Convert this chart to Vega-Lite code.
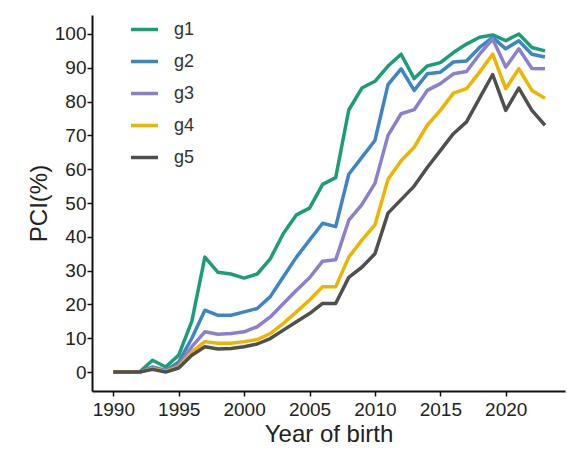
{
  "$schema": "https://vega.github.io/schema/vega-lite/v6.json",
  "autosize": "none",
  "width": 473,
  "height": 376,
  "padding": {"left": 92, "top": 15, "right": 2, "bottom": 58},
  "background": "white",
  "config": {
    "view": {"stroke": null},
    "font": "Liberation Sans",
    "axis": {
      "grid": false,
      "domainColor": "#111",
      "domainWidth": 2,
      "tickColor": "#111",
      "tickWidth": 1.5,
      "tickSize": 5,
      "labelFontSize": 19,
      "labelColor": "#222",
      "titleFontSize": 24,
      "titleFontWeight": "normal",
      "titleColor": "#222"
    }
  },
  "data": {
    "values": [
      {"year": 1990, "g1": 0, "g2": 0, "g3": 0, "g4": 0, "g5": 0},
      {"year": 1991, "g1": 0, "g2": 0, "g3": 0, "g4": 0, "g5": 0},
      {"year": 1992, "g1": 0, "g2": 0, "g3": 0, "g4": 0, "g5": 0},
      {"year": 1993, "g1": 3.5, "g2": 1.5, "g3": 1.2, "g4": 1, "g5": 0.8},
      {"year": 1994, "g1": 1.5, "g2": 0.5, "g3": 0.3, "g4": 0.2, "g5": 0},
      {"year": 1995, "g1": 5, "g2": 3, "g3": 2, "g4": 1.5, "g5": 1.2},
      {"year": 1996, "g1": 15, "g2": 10, "g3": 7.5, "g4": 6, "g5": 5},
      {"year": 1997, "g1": 34, "g2": 18.3, "g3": 11.9, "g4": 9, "g5": 7.5},
      {"year": 1998, "g1": 29.5, "g2": 16.8, "g3": 11.2, "g4": 8.5, "g5": 6.8},
      {"year": 1999, "g1": 29, "g2": 16.8, "g3": 11.4, "g4": 8.5, "g5": 7},
      {"year": 2000, "g1": 27.8, "g2": 17.8, "g3": 11.9, "g4": 9, "g5": 7.5},
      {"year": 2001, "g1": 29, "g2": 18.8, "g3": 13.4, "g4": 9.6, "g5": 8.3},
      {"year": 2002, "g1": 33.5, "g2": 22.3, "g3": 16.3, "g4": 11.4, "g5": 9.9},
      {"year": 2003, "g1": 41, "g2": 28.2, "g3": 20.3, "g4": 14.4, "g5": 12.4},
      {"year": 2004, "g1": 46.5, "g2": 34, "g3": 24.2, "g4": 17.8, "g5": 14.9},
      {"year": 2005, "g1": 48.5, "g2": 39, "g3": 27.9, "g4": 21.3, "g5": 17.3},
      {"year": 2006, "g1": 55.5, "g2": 44, "g3": 32.8, "g4": 25.2, "g5": 20.3},
      {"year": 2007, "g1": 57.5, "g2": 43, "g3": 33.2, "g4": 25.2, "g5": 20.3},
      {"year": 2008, "g1": 77.5, "g2": 58.5, "g3": 44.9, "g4": 34, "g5": 28},
      {"year": 2009, "g1": 84, "g2": 63.5, "g3": 49.5, "g4": 39, "g5": 31},
      {"year": 2010, "g1": 86, "g2": 68.5, "g3": 55.8, "g4": 43.5, "g5": 35},
      {"year": 2011, "g1": 90.5, "g2": 85, "g3": 70, "g4": 57, "g5": 47},
      {"year": 2012, "g1": 94, "g2": 89.7, "g3": 76.4, "g4": 62.5, "g5": 51},
      {"year": 2013, "g1": 86.8, "g2": 83.3, "g3": 77.6, "g4": 66.5, "g5": 55},
      {"year": 2014, "g1": 90.5, "g2": 88.2, "g3": 83.3, "g4": 73, "g5": 60.5},
      {"year": 2015, "g1": 91.5, "g2": 88.7, "g3": 85.3, "g4": 77.4, "g5": 65.5},
      {"year": 2016, "g1": 94.5, "g2": 91.7, "g3": 88.2, "g4": 82.5, "g5": 70.5},
      {"year": 2017, "g1": 97, "g2": 92, "g3": 88.9, "g4": 83.8, "g5": 74},
      {"year": 2018, "g1": 99, "g2": 96, "g3": 94, "g4": 88.7, "g5": 81},
      {"year": 2019, "g1": 99.7, "g2": 99, "g3": 98.5, "g4": 94, "g5": 88},
      {"year": 2020, "g1": 98, "g2": 95.6, "g3": 90.2, "g4": 83.8, "g5": 77.4},
      {"year": 2021, "g1": 100, "g2": 98, "g3": 95.6, "g4": 89.7, "g5": 84},
      {"year": 2022, "g1": 96, "g2": 94, "g3": 89.8, "g4": 83.3, "g5": 77.4},
      {"year": 2023, "g1": 95, "g2": 93.2, "g3": 89.7, "g4": 81, "g5": 73}
    ]
  },
  "transform": [{"fold": ["g1", "g2", "g3", "g4", "g5"], "as": ["group", "value"]}],
  "mark": {"type": "line", "strokeWidth": 3.5, "strokeJoin": "round"},
  "encoding": {
    "x": {
      "field": "year",
      "type": "quantitative",
      "scale": {"domain": [1988.37, 2024.53], "nice": false, "zero": false},
      "axis": {"values": [1990, 1995, 2000, 2005, 2010, 2015, 2020], "format": "d", "title": "Year of birth", "labelPadding": 4, "titlePadding": 3}
    },
    "y": {
      "field": "value",
      "type": "quantitative",
      "scale": {"domain": [-5.6, 105.6], "nice": false, "zero": false},
      "axis": {"values": [0, 10, 20, 30, 40, 50, 60, 70, 80, 90, 100], "title": "PCI(%)", "labelPadding": 1, "titlePadding": 3}
    },
    "color": {
      "field": "group",
      "type": "nominal",
      "scale": {"domain": ["g1", "g2", "g3", "g4", "g5"], "range": ["#1b9e77", "#3d85c6", "#8a7fd1", "#f0b400", "#4f4f4f"]},
      "legend": {
        "title": null,
        "orient": "none",
        "legendX": 37,
        "legendY": -1,
        "symbolType": "stroke",
        "symbolSize": 729,
        "symbolStrokeWidth": 3.5,
        "labelFontSize": 18,
        "labelColor": "#333",
        "labelOffset": 14,
        "rowPadding": 7
      }
    }
  }
}
